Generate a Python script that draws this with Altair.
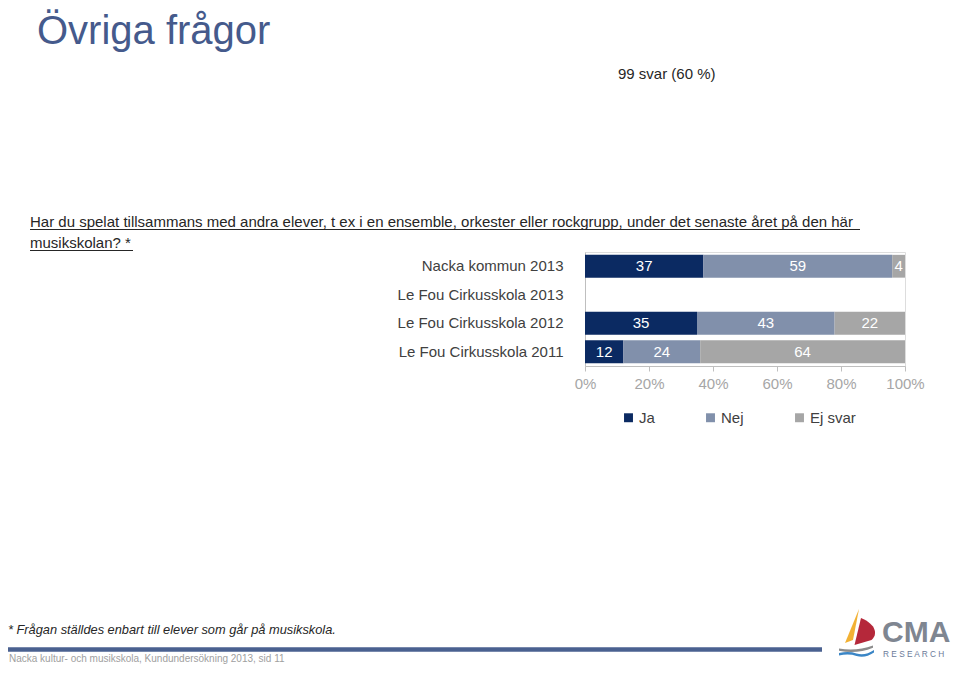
import altair as alt
import pandas as pd

# ---- data ----
categories = ["Nacka kommun 2013", "Le Fou Cirkusskola 2013",
              "Le Fou Cirkusskola 2012", "Le Fou Cirkusskola 2011"]
series = ["Ja", "Nej", "Ej svar"]
colors = ["#0b2a62", "#8190ab", "#a6a6a6"]
ja = [37, None, 35, 12]
nej = [59, None, 43, 24]
ej_svar = [4, None, 22, 64]
x_ticks = [0, 20, 40, 60, 80, 100]

rows = []
for ci, cat in enumerate(categories):
    for si, (name, vals) in enumerate(zip(series, [ja, nej, ej_svar])):
        v = vals[ci]
        if v is not None:
            rows.append({"category": cat, "series": name, "order": si, "value": v})
df = pd.DataFrame(rows)
one = pd.DataFrame({"k": [0]})

FONT = "Liberation Sans"

xscale = alt.Scale(domain=[0, 100], nice=False)
yscale = alt.Scale(domain=categories, paddingInner=0.2, paddingOuter=0.1)

bars = alt.Chart(df).mark_bar(strokeWidth=0).encode(
    x=alt.X("value:Q", stack="zero", scale=xscale,
            axis=alt.Axis(values=x_ticks, labelExpr="datum.value + '%'", title=None,
                          grid=False, domainColor="#bfbfbf", tickColor="#bfbfbf",
                          tickSize=5, labelPadding=5, labelColor="#a6a6a6",
                          labelFontSize=15, labelFont=FONT, labelFlush=False,
                          labelOverlap=False)),
    y=alt.Y("category:N", scale=yscale,
            axis=alt.Axis(title=None, ticks=False, domain=True, domainColor="#bfbfbf",
                          labelPadding=22, labelColor="#404040", labelFontSize=15,
                          labelFont=FONT, labelLimit=400)),
    color=alt.Color("series:N", scale=alt.Scale(domain=series, range=colors),
                    legend=alt.Legend(orient="none", legendX=36, legendY=158, title=None,
                                      direction="horizontal", symbolType="square",
                                      symbolSize=80, symbolStrokeWidth=0,
                                      labelFontSize=15, labelFont=FONT,
                                      labelColor="#404040", columnPadding=48,
                                      labelOffset=3, padding=0)),
    order=alt.Order("order:Q"),
)

labels = alt.Chart(df).transform_window(
    cum="sum(value)", groupby=["category"], sort=[alt.SortField("order")], frame=[None, 0]
).transform_calculate(mid="datum.cum - datum.value / 2").mark_text(
    color="white", fontSize=15, font=FONT, baseline="middle", align="center"
).encode(
    x=alt.X("mid:Q", scale=xscale, title=None),
    y=alt.Y("category:N", scale=yscale, title=None),
    text="value:Q",
)


def txt(s, x, y, **kw):
    params = dict(font=FONT, align="left", baseline="alphabetic", text=s)
    params.update(kw)
    return alt.Chart(one).mark_text(**params).encode(x=alt.value(x), y=alt.value(y))


def rule(x1, x2, y, color, w):
    return alt.Chart(one).mark_rule(color=color, strokeWidth=w).encode(
        x=alt.value(x1), x2=alt.value(x2), y=alt.value(y))


def shape(path, color, x, y, size):
    return alt.Chart(one).mark_point(shape=path, filled=True, color=color, opacity=1,
                                     size=size, strokeWidth=0).encode(
        x=alt.value(x), y=alt.value(y))


title = txt("Övriga frågor", -548, -208, fontSize=40, color="#455a8c")
svar = txt("99 svar (60 %)", 33, -173, fontSize=15, color="#262626")
q1 = txt("Har du spelat tillsammans med andra elever, t ex i en ensemble, orkester eller rockgrupp, under det senaste året på den här",
         -555, -25, fontSize=15, color="#262626")
q2 = txt("musikskolan? *", -555, -4, fontSize=15, color="#262626")
u1 = rule(-555, 275, -22.5, "#262626", 1)
u2 = rule(-555, -452, -1.5, "#262626", 1)
foot = txt("* Frågan ställdes enbart till elever som går på musikskola.", -577, 382,
           fontSize=12.8, fontStyle="italic", color="#262626")
bar_line = rule(-585, 237, 397.5, "#4a6190", 4.5)
foot2 = txt("Nacka kultur- och musikskola, Kundundersökning 2013, sid 11", -576, 410,
            fontSize=10, color="#a0a0a0")

# logo (shifted slightly left so it stays inside the canvas)
LX, LY, LS = 274, 380, 2500
sail_y = shape("M0,-0.92 L-0.56,0.44 L-0.24,0.32 Z", "#f2b134", LX, LY, LS)
sail_r = shape("M0.08,-0.56 C0.7,-0.3 0.75,0.1 0.5,0.32 L-0.18,0.52 L0.08,-0.56 Z", "#b5283a", LX, LY, LS)
hull = shape("M-0.8,0.66 Q-0.1,0.78 0.56,0.54 L0.56,0.63 Q-0.1,0.9 -0.8,0.75 Z", "#8c8c8c", LX, LY, LS)
wave = shape("M-0.8,0.84 Q-0.4,0.76 -0.1,0.86 Q0.25,0.96 0.6,0.72 L0.6,0.82 Q0.25,1.06 -0.1,0.96 Q-0.4,0.86 -0.8,0.94 Z", "#3b86c6", LX, LY, LS)
cma = txt("CMA", 297, 390, fontSize=30, fontWeight="bold", color="#7f8691")
research = txt("R E S E A R C H", 298, 404.5, fontSize=8.3, color="#6a7a99")

chart = alt.layer(
    bars, labels, title, svar, q1, q2, u1, u2, foot, bar_line, foot2,
    sail_y, sail_r, hull, wave, cma, research
).properties(
    width=320, height=114,
    autosize=alt.AutoSizeParams(type="none"),
    padding={"left": 577, "top": 244, "right": 47, "bottom": 299},
).configure_view(stroke="#d9d9d9", strokeWidth=1).configure(background="white")

chart.save("out.html", embed_options={"renderer": "svg", "actions": False})
